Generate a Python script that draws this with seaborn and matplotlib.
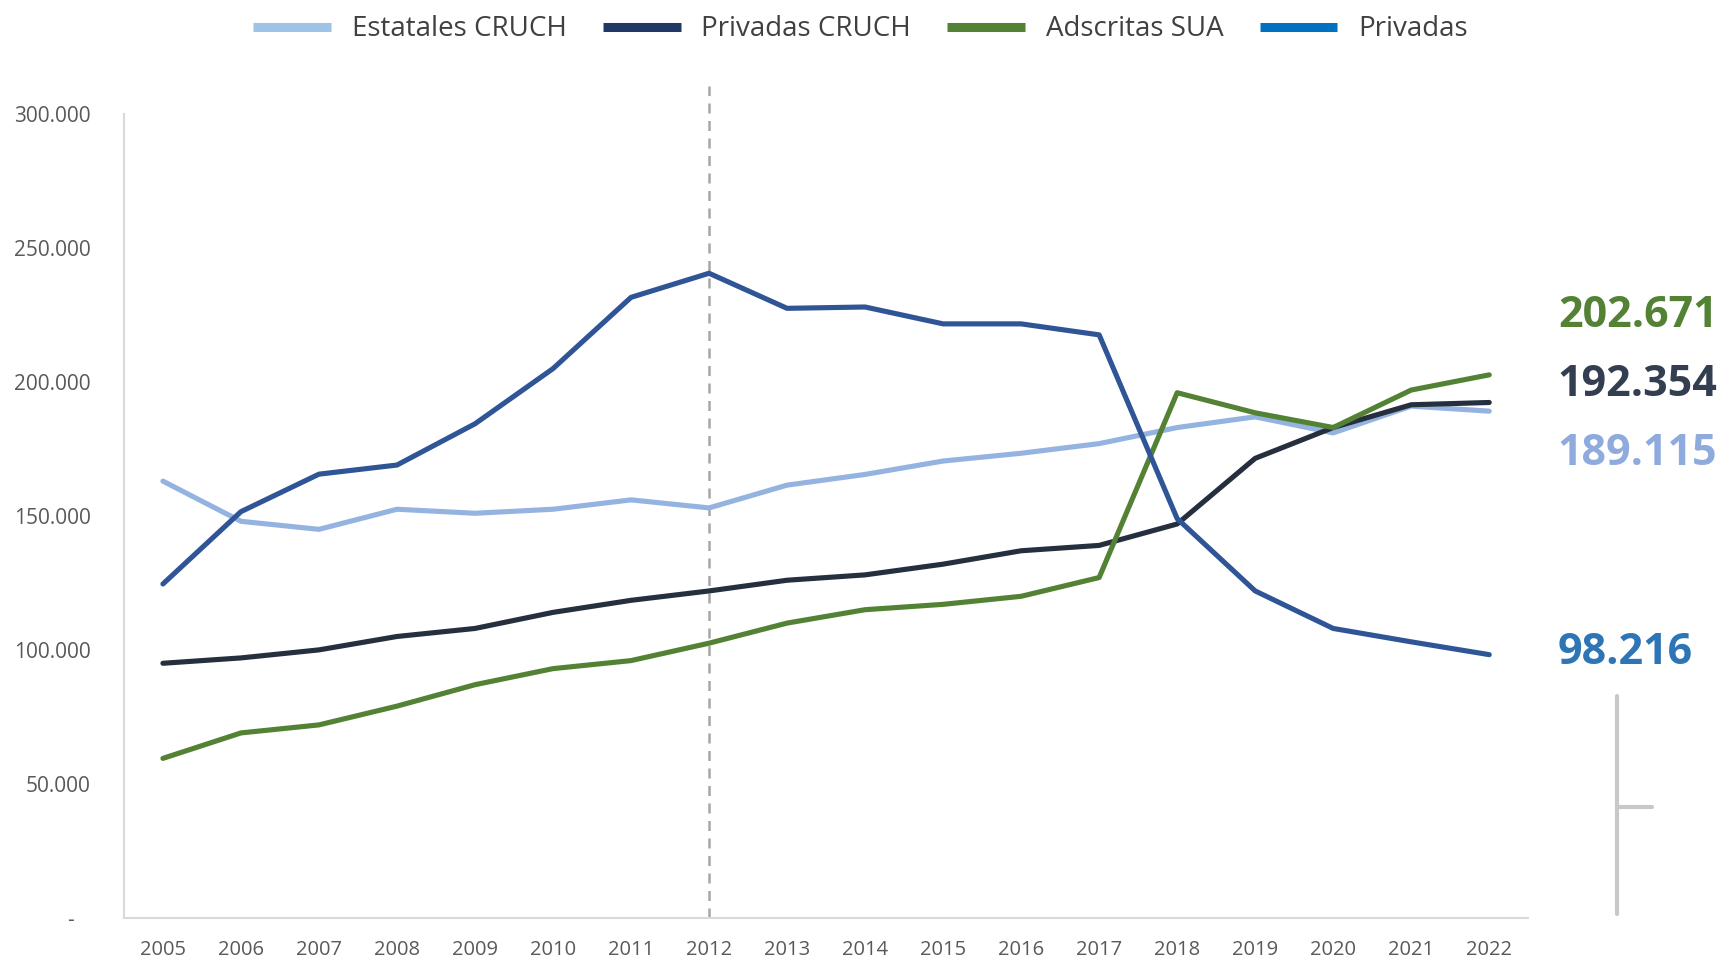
import pandas as pd
import matplotlib
matplotlib.use("Agg")
import matplotlib.pyplot as plt
import seaborn as sns
from matplotlib.lines import Line2D

# Data
years = list(range(2005, 2023))
estatales_cruch = [163000, 148000, 145000, 152500, 151000, 152500, 156000, 153000, 161500,
                   165500, 170500, 173400, 177000, 183000, 187000, 181000, 191000, 189115]
privadas_cruch = [95000, 97000, 100000, 105000, 108000, 114000, 118500, 122000, 126000,
                  128000, 132000, 137000, 139000, 147000, 171500, 183000, 191500, 192354]
adscritas_sua = [59500, 69000, 72000, 79000, 87000, 93000, 96000, 102500, 110000,
                 115000, 117000, 120000, 127000, 196000, 188500, 183000, 197000, 202671]
privadas = [124600, 151600, 165600, 169000, 184400, 205000, 231600, 240600, 227500,
            228000, 221700, 221700, 217600, 149000, 122000, 108000, 103000, 98216]

series_names = ["Estatales CRUCH", "Privadas CRUCH", "Adscritas SUA", "Privadas"]
line_colors = ["#95B3E0", "#262F3E", "#548235", "#2F5597"]
legend_colors = ["#9DC3E6", "#1F3864", "#548235", "#0070C0"]
label_colors = ["#8FAADC", "#333F50", "#548235", "#2E75B6"]
label_y = [173200, 199000, 224700, 99000]

df = pd.DataFrame({
    "Año": years * 4,
    "Matrícula": estatales_cruch + privadas_cruch + adscritas_sua + privadas,
    "Tipo": sum([[n] * len(years) for n in series_names], []),
})

sns.set_style("white")
plt.rcParams["font.family"] = ["Open Sans", "DejaVu Sans"]

fig = plt.figure(figsize=(17.21, 9.59), dpi=100)
ax = fig.add_axes([0.072, 0.043, 0.816, 0.838])

sns.lineplot(data=df, x="Año", y="Matrícula", hue="Tipo", hue_order=series_names,
             palette=line_colors, linewidth=3.7, legend=False, ax=ax)

ax.set_xlim(2004.5, 2022.5)
ax.set_ylim(0, 300000)
ax.set_xticks(years)
ax.set_xticklabels([str(y) for y in years], fontsize=14.5, color="#595959")
yt = [0, 50000, 100000, 150000, 200000, 250000, 300000]
ax.set_yticks(yt)
ax.set_yticklabels(["-   "] + [f"{v:,}".replace(",", ".") for v in yt[1:]],
                   fontsize=15, color="#595959")
ax.tick_params(axis="y", length=0, pad=24)
ax.tick_params(axis="x", length=0, pad=16)
ax.set_xlabel("")
ax.set_ylabel("")
for s in ["top", "right"]:
    ax.spines[s].set_visible(False)
for s in ["left", "bottom"]:
    ax.spines[s].set_color("#D9D9D9")
    ax.spines[s].set_linewidth(1.5)

# dashed marker at 2012
ax.axvline(2012, ymin=0, ymax=1.035, color="#A6A6A6", linestyle=(0, (4, 3)),
           linewidth=1.8, clip_on=False, zorder=1)

# end labels
for name, col, yv, vals in zip(series_names, label_colors, label_y,
                               [estatales_cruch, privadas_cruch, adscritas_sua, privadas]):
    txt = f"{vals[-1]:,}".replace(",", ".")
    ax.text(2022.88, yv, txt, color=col, fontsize=31, fontweight="bold",
            ha="left", va="center", clip_on=False)

# legend
handles = [Line2D([0], [0], color=c, linewidth=6.5, solid_capstyle="butt")
           for c in legend_colors]
fig.legend(handles, series_names, loc="upper center", bbox_to_anchor=(0.5, 1.01), ncol=4,
           frameon=False, handlelength=2.8, handletextpad=0.75, columnspacing=1.3,
           prop={"size": 20}, labelcolor="#404040")

# small gray bracket at the lower right
fig.add_artist(Line2D([1617 / 1721, 1617 / 1721], [1 - 696 / 959, 1 - 914 / 959],
                      color="#C8C8C8", linewidth=3, transform=fig.transFigure))
fig.add_artist(Line2D([1617 / 1721, 1652 / 1721], [1 - 807 / 959, 1 - 807 / 959],
                      color="#C8C8C8", linewidth=3, transform=fig.transFigure))

fig.savefig("out.png", dpi=100)
